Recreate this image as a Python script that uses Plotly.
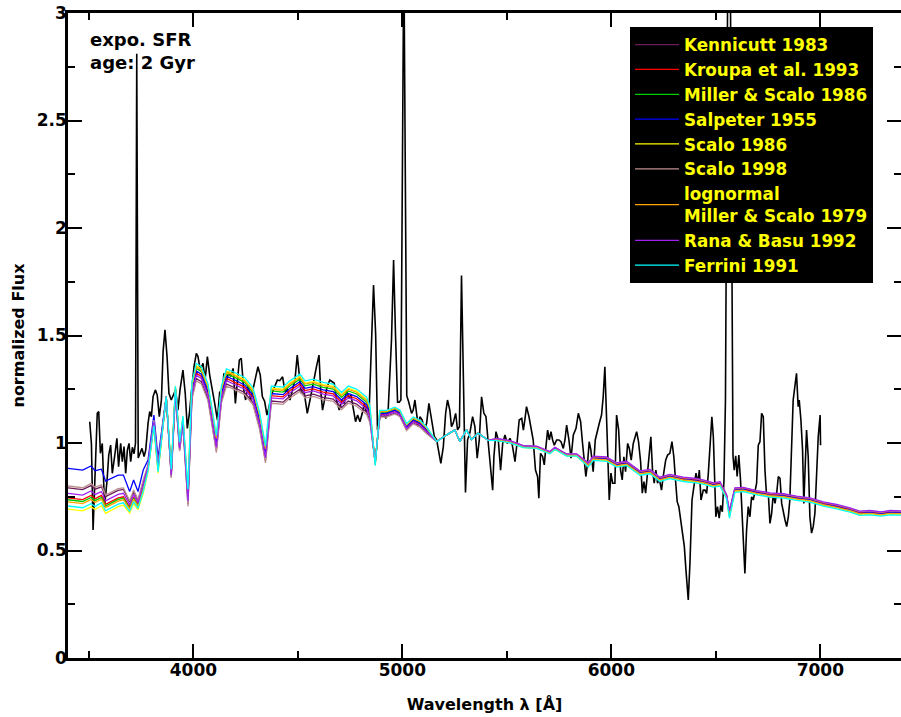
import plotly.graph_objects as go

# Observed spectrum: (wavelength [A], normalized flux)
observed = [
    (3504, 1.099), (3512, 0.998), (3520, 0.595), (3540, 1.138), (3547, 1.146), (3555, 0.952),
    (3564, 0.998), (3575, 0.704), (3587, 0.828), (3595, 0.944), (3604, 0.990), (3612, 0.859),
    (3623, 0.937), (3634, 1.022), (3642, 0.890), (3652, 0.998), (3660, 0.913), (3668, 0.983),
    (3676, 0.859), (3684, 0.967), (3692, 0.998), (3700, 0.913), (3708, 0.980), (3716, 0.950),
    (3723, 1.000), (3729, 2.810), (3736, 0.930), (3743, 0.952), (3754, 0.975), (3764, 0.937),
    (3772, 0.967), (3783, 1.091), (3791, 1.146), (3799, 1.122), (3807, 1.216), (3818, 1.247),
    (3827, 1.223), (3837, 1.122), (3847, 1.200), (3855, 1.425), (3864, 1.526), (3874, 1.402),
    (3883, 1.231), (3894, 1.200), (3906, 1.231), (3915, 1.247), (3926, 1.153), (3936, 1.247),
    (3950, 1.339), (3961, 1.231), (3971, 1.068), (3981, 1.138), (3990, 1.231), (4003, 1.355),
    (4014, 1.417), (4022, 1.402), (4033, 1.339), (4046, 1.371), (4056, 1.293), (4067, 1.402),
    (4078, 1.316), (4089, 1.247), (4102, 1.184), (4115, 1.107), (4126, 1.239), (4137, 1.223),
    (4146, 1.324), (4158, 1.285), (4169, 1.332), (4178, 1.309), (4190, 1.347), (4201, 1.184),
    (4210, 1.301), (4220, 1.386), (4229, 1.394), (4241, 1.247), (4250, 1.200), (4261, 1.270),
    (4274, 1.200), (4285, 1.247), (4298, 1.316), (4309, 1.355), (4320, 1.316), (4330, 1.216),
    (4341, 1.193), (4352, 1.130), (4362, 1.168), (4373, 1.223), (4389, 1.262), (4402, 1.293),
    (4413, 1.290), (4427, 1.308), (4438, 1.239), (4449, 1.254), (4462, 1.200), (4475, 1.247),
    (4486, 1.293), (4497, 1.409), (4507, 1.308), (4516, 1.231), (4526, 1.262), (4534, 1.216),
    (4545, 1.138), (4558, 1.200), (4569, 1.262), (4580, 1.324), (4589, 1.355), (4601, 1.409),
    (4609, 1.247), (4618, 1.153), (4629, 1.200), (4640, 1.262), (4653, 1.293), (4664, 1.285),
    (4674, 1.278), (4685, 1.200), (4698, 1.153), (4711, 1.200), (4722, 1.184), (4733, 1.247),
    (4744, 1.208), (4754, 1.223), (4765, 1.169), (4776, 1.099), (4786, 1.130), (4797, 1.099),
    (4808, 1.138), (4818, 1.184), (4826, 1.145), (4833, 1.169), (4841, 1.153), (4853, 1.510),
    (4862, 1.735), (4872, 1.510), (4881, 1.061), (4893, 1.122), (4908, 1.138), (4921, 1.115),
    (4932, 1.153), (4948, 1.479), (4958, 1.851), (4967, 1.510), (4977, 1.190), (4985, 1.190),
    (4993, 1.200), (5007, 3.300), (5021, 1.220), (5030, 1.192), (5044, 1.138), (5052, 1.153),
    (5060, 1.200), (5068, 1.138), (5076, 1.076), (5084, 1.122), (5095, 1.107), (5105, 1.061),
    (5116, 1.092), (5127, 1.184), (5135, 1.138), (5145, 1.076), (5153, 1.030), (5164, 1.015),
    (5175, 0.944), (5184, 0.905), (5196, 0.983), (5207, 1.138), (5216, 1.200), (5227, 1.153),
    (5235, 1.076), (5243, 1.092), (5255, 1.138), (5264, 1.061), (5273, 1.076), (5283, 1.779),
    (5302, 0.770), (5312, 1.015), (5323, 1.046), (5336, 1.123), (5347, 1.076), (5358, 0.929),
    (5368, 1.015), (5379, 1.215), (5390, 1.138), (5400, 1.123), (5411, 1.000), (5422, 0.890),
    (5432, 0.780), (5438, 0.936), (5448, 1.053), (5459, 1.014), (5470, 0.874), (5480, 0.998),
    (5491, 1.037), (5502, 0.998), (5515, 1.022), (5526, 0.991), (5539, 0.913), (5550, 1.014),
    (5559, 1.107), (5571, 1.115), (5579, 1.060), (5586, 1.107), (5594, 1.169), (5606, 1.122),
    (5615, 1.076), (5626, 1.014), (5637, 0.874), (5647, 0.844), (5653, 0.743), (5661, 0.952),
    (5671, 0.937), (5679, 0.898), (5687, 0.983), (5695, 1.060), (5703, 1.014), (5711, 1.053),
    (5719, 1.014), (5727, 0.990), (5738, 1.014), (5749, 1.014), (5759, 1.006), (5770, 0.975),
    (5778, 1.014), (5786, 1.083), (5797, 1.014), (5807, 0.929), (5818, 1.037), (5831, 1.068),
    (5842, 1.138), (5853, 1.099), (5862, 1.000), (5870, 0.929), (5878, 0.844), (5886, 0.906),
    (5894, 1.006), (5902, 0.967), (5913, 0.867), (5923, 1.014), (5933, 1.060), (5942, 1.091),
    (5953, 1.130), (5961, 1.215), (5969, 1.355), (5977, 1.122), (5984, 0.967), (5990, 0.735),
    (5998, 0.860), (6006, 0.813), (6017, 0.813), (6025, 1.130), (6035, 1.060), (6044, 0.874),
    (6052, 0.828), (6060, 0.936), (6068, 0.867), (6078, 0.998), (6086, 0.975), (6095, 0.920),
    (6105, 0.998), (6121, 1.053), (6130, 1.006), (6140, 0.913), (6148, 0.767), (6156, 0.820),
    (6164, 0.767), (6172, 0.844), (6181, 0.936), (6189, 1.029), (6197, 0.874), (6205, 0.813),
    (6213, 0.874), (6221, 0.813), (6229, 0.836), (6240, 0.781), (6248, 0.844), (6260, 0.920),
    (6269, 0.944), (6280, 0.952), (6290, 1.006), (6299, 0.936), (6307, 0.828), (6315, 0.727),
    (6323, 0.704), (6331, 0.650), (6339, 0.595), (6349, 0.520), (6357, 0.409), (6368, 0.270),
    (6376, 0.440), (6386, 0.735), (6395, 0.797), (6405, 0.860), (6414, 0.813), (6421, 0.874),
    (6429, 0.735), (6440, 0.781), (6448, 0.781), (6456, 0.766), (6464, 0.859), (6472, 0.967),
    (6481, 1.122), (6488, 1.029), (6494, 0.844), (6500, 0.657), (6508, 0.704), (6516, 0.650),
    (6523, 0.710), (6531, 0.680), (6539, 0.828), (6546, 1.200), (6563, 4.300), (6578, 1.300),
    (6582, 0.940), (6588, 0.874), (6595, 0.940), (6602, 0.844), (6610, 0.944), (6618, 0.828),
    (6626, 0.642), (6634, 0.533), (6639, 0.393), (6647, 0.595), (6655, 0.704), (6663, 0.657),
    (6671, 0.750), (6679, 0.735), (6687, 0.781), (6695, 0.812), (6703, 0.990), (6711, 1.006),
    (6719, 1.138), (6727, 1.122), (6735, 0.874), (6743, 0.750), (6751, 0.766), (6759, 0.626),
    (6767, 0.673), (6775, 0.766), (6783, 0.719), (6791, 0.766), (6799, 0.844), (6807, 0.836),
    (6815, 0.719), (6823, 0.673), (6831, 0.642), (6839, 0.611), (6847, 0.657), (6854, 0.735),
    (6862, 0.952), (6870, 1.200), (6878, 1.262), (6886, 1.324), (6894, 1.169), (6899, 1.200),
    (6907, 1.107), (6915, 0.967), (6921, 0.719), (6929, 0.967), (6934, 1.060), (6942, 0.936),
    (6950, 0.657), (6958, 0.581), (6966, 0.611), (6974, 0.673), (6982, 0.874), (6990, 1.029),
    (6999, 1.130), (7001, 0.990),
]
obs_wave = [w for w, _ in observed]
obs_flux = [f for _, f in observed]

# Common wavelength grid of the synthetic model spectra [A]
model_wave = [
    3400, 3470, 3510, 3530, 3560, 3580, 3640, 3665, 3695, 3714, 3735, 3760, 3783, 3811, 3831, 3870,
    3894, 3914, 3934, 3950, 3974, 3993, 4014, 4038, 4070, 4110, 4134, 4158, 4198, 4245, 4285, 4317,
    4345, 4373, 4429, 4462, 4510, 4534, 4574, 4621, 4669, 4709, 4741, 4781, 4829, 4845,
    4870, 4892, 4924, 4964, 4988, 5020, 5052, 5084, 5116,
    5164, 5212, 5251, 5275, 5307, 5331, 5363, 5411,
    5451, 5515, 5579, 5642, 5706, 5730, 5786, 5834, 5890, 5913, 5977, 6025, 6073, 6137, 6185, 6232,
    6280, 6344, 6408, 6448, 6488, 6520, 6551, 6565, 6591, 6631, 6695, 6759, 6823, 6886, 6950, 7014,
    7078, 7142, 7189, 7237, 7293, 7333, 7400,
]

kennicutt_1983 = [
    0.791, 0.783, 0.802, 0.785, 0.796, 0.751, 0.780, 0.784, 0.726, 0.775, 0.733, 0.822, 0.895, 1.104, 0.896, 1.216,
    0.842, 1.229, 0.967, 1.089, 0.715, 1.212, 1.300, 1.285, 1.205, 0.965, 1.195, 1.275, 1.258, 1.235, 1.188, 1.072,
    0.917, 1.195, 1.190, 1.219, 1.250, 1.219, 1.227, 1.212, 1.204, 1.165, 1.195, 1.181, 1.143, 1.103,
    0.911, 1.124, 1.124, 1.139, 1.126, 1.062, 1.093, 1.078, 1.047,
    1.007, 1.038, 1.061, 1.007, 1.061, 1.015, 1.046, 1.012,
    1.019, 1.009, 0.986, 0.983, 0.958, 0.978, 0.947, 0.947, 0.904, 0.935, 0.931, 0.904, 0.911, 0.866, 0.873, 0.837,
    0.850, 0.837, 0.831, 0.822, 0.811, 0.816, 0.757, 0.680, 0.787, 0.790, 0.775, 0.764, 0.760, 0.749, 0.741, 0.722,
    0.710, 0.694, 0.679, 0.682, 0.676, 0.682, 0.680,
]
kroupa_1993 = [
    0.745, 0.737, 0.756, 0.741, 0.756, 0.715, 0.745, 0.750, 0.702, 0.749, 0.713, 0.796, 0.882, 1.091, 0.880, 1.216,
    0.855, 1.242, 0.980, 1.102, 0.740, 1.237, 1.325, 1.310, 1.230, 0.990, 1.220, 1.300, 1.283, 1.260, 1.213, 1.097,
    0.942, 1.220, 1.215, 1.244, 1.275, 1.244, 1.252, 1.237, 1.229, 1.190, 1.220, 1.206, 1.168, 1.128,
    0.907, 1.134, 1.134, 1.149, 1.136, 1.072, 1.103, 1.088, 1.057,
    1.007, 1.038, 1.061, 1.007, 1.061, 1.015, 1.046, 1.012,
    1.018, 1.008, 0.985, 0.982, 0.957, 0.977, 0.946, 0.946, 0.902, 0.933, 0.929, 0.902, 0.909, 0.864, 0.871, 0.835,
    0.848, 0.835, 0.829, 0.820, 0.809, 0.814, 0.755, 0.677, 0.785, 0.788, 0.773, 0.762, 0.758, 0.747, 0.739, 0.720,
    0.708, 0.692, 0.677, 0.680, 0.674, 0.680, 0.678,
]
miller_scalo_1986 = [
    0.736, 0.728, 0.747, 0.732, 0.747, 0.707, 0.738, 0.743, 0.697, 0.743, 0.709, 0.791, 0.879, 1.088, 0.876, 1.216,
    0.866, 1.253, 0.991, 1.113, 0.762, 1.259, 1.347, 1.332, 1.252, 1.012, 1.242, 1.322, 1.305, 1.282, 1.235, 1.119,
    0.964, 1.242, 1.237, 1.266, 1.297, 1.266, 1.274, 1.259, 1.251, 1.212, 1.242, 1.228, 1.190, 1.150,
    0.902, 1.143, 1.143, 1.158, 1.145, 1.081, 1.112, 1.097, 1.066,
    1.007, 1.038, 1.061, 1.007, 1.061, 1.015, 1.046, 1.012,
    1.013, 1.003, 0.980, 0.977, 0.952, 0.972, 0.941, 0.941, 0.893, 0.924, 0.920, 0.893, 0.900, 0.855, 0.862, 0.826,
    0.839, 0.826, 0.820, 0.811, 0.800, 0.805, 0.746, 0.662, 0.776, 0.779, 0.764, 0.753, 0.749, 0.738, 0.730, 0.711,
    0.699, 0.683, 0.668, 0.671, 0.665, 0.671, 0.669,
]
salpeter_1955 = [
    0.882, 0.874, 0.893, 0.871, 0.878, 0.823, 0.851, 0.851, 0.774, 0.828, 0.774, 0.874, 0.921, 1.130, 0.930, 1.216,
    0.860, 1.247, 0.985, 1.107, 0.750, 1.247, 1.335, 1.320, 1.240, 1.000, 1.230, 1.310, 1.293, 1.270, 1.223, 1.107,
    0.952, 1.230, 1.225, 1.254, 1.285, 1.254, 1.262, 1.247, 1.239, 1.200, 1.230, 1.216, 1.178, 1.138,
    0.905, 1.138, 1.138, 1.153, 1.140, 1.076, 1.107, 1.092, 1.061,
    1.007, 1.038, 1.061, 1.007, 1.061, 1.015, 1.046, 1.012,
    1.016, 1.006, 0.983, 0.980, 0.955, 0.975, 0.944, 0.944, 0.898, 0.929, 0.925, 0.898, 0.905, 0.860, 0.867, 0.831,
    0.844, 0.831, 0.825, 0.816, 0.805, 0.810, 0.751, 0.673, 0.781, 0.784, 0.769, 0.758, 0.754, 0.743, 0.735, 0.716,
    0.704, 0.688, 0.673, 0.676, 0.670, 0.676, 0.674,
]
scalo_1986 = [
    0.692, 0.684, 0.703, 0.691, 0.708, 0.673, 0.704, 0.711, 0.674, 0.718, 0.689, 0.766, 0.867, 1.076, 0.860, 1.216,
    0.873, 1.260, 0.998, 1.120, 0.775, 1.272, 1.360, 1.345, 1.265, 1.025, 1.255, 1.335, 1.318, 1.295, 1.248, 1.132,
    0.977, 1.255, 1.250, 1.279, 1.310, 1.279, 1.287, 1.272, 1.264, 1.225, 1.255, 1.241, 1.203, 1.163,
    0.898, 1.148, 1.148, 1.163, 1.150, 1.086, 1.117, 1.102, 1.071,
    1.007, 1.038, 1.061, 1.007, 1.061, 1.015, 1.046, 1.012,
    1.012, 1.002, 0.979, 0.976, 0.951, 0.971, 0.940, 0.940, 0.891, 0.922, 0.918, 0.891, 0.898, 0.853, 0.860, 0.824,
    0.837, 0.824, 0.818, 0.809, 0.798, 0.803, 0.744, 0.658, 0.774, 0.777, 0.762, 0.751, 0.747, 0.736, 0.728, 0.709,
    0.697, 0.681, 0.666, 0.669, 0.663, 0.669, 0.667,
]
scalo_1998 = [
    0.800, 0.792, 0.811, 0.794, 0.805, 0.758, 0.788, 0.791, 0.731, 0.781, 0.737, 0.828, 0.898, 1.107, 0.900, 1.216,
    0.837, 1.224, 0.962, 1.084, 0.705, 1.202, 1.290, 1.275, 1.195, 0.955, 1.185, 1.265, 1.248, 1.225, 1.178, 1.062,
    0.907, 1.185, 1.180, 1.209, 1.240, 1.209, 1.217, 1.202, 1.194, 1.155, 1.185, 1.171, 1.133, 1.093,
    0.913, 1.120, 1.120, 1.135, 1.122, 1.058, 1.089, 1.074, 1.043,
    1.007, 1.038, 1.061, 1.007, 1.061, 1.015, 1.046, 1.012,
    1.020, 1.010, 0.987, 0.984, 0.959, 0.979, 0.948, 0.948, 0.906, 0.937, 0.933, 0.906, 0.913, 0.868, 0.875, 0.839,
    0.852, 0.839, 0.833, 0.824, 0.813, 0.818, 0.759, 0.682, 0.789, 0.792, 0.777, 0.766, 0.762, 0.751, 0.743, 0.724,
    0.712, 0.696, 0.681, 0.684, 0.678, 0.684, 0.682,
]
lognormal_1979 = [
    0.726, 0.718, 0.737, 0.723, 0.739, 0.700, 0.730, 0.736, 0.692, 0.738, 0.704, 0.785, 0.877, 1.086, 0.873, 1.216,
    0.870, 1.257, 0.995, 1.117, 0.770, 1.267, 1.355, 1.340, 1.260, 1.020, 1.250, 1.330, 1.313, 1.290, 1.243, 1.127,
    0.972, 1.250, 1.245, 1.274, 1.305, 1.274, 1.282, 1.267, 1.259, 1.220, 1.250, 1.236, 1.198, 1.158,
    0.900, 1.146, 1.146, 1.161, 1.148, 1.084, 1.115, 1.100, 1.069,
    1.007, 1.038, 1.061, 1.007, 1.061, 1.015, 1.046, 1.012,
    1.014, 1.004, 0.981, 0.978, 0.953, 0.973, 0.942, 0.942, 0.895, 0.926, 0.922, 0.895, 0.902, 0.857, 0.864, 0.828,
    0.841, 0.828, 0.822, 0.813, 0.802, 0.807, 0.748, 0.665, 0.778, 0.781, 0.766, 0.755, 0.751, 0.740, 0.732, 0.713,
    0.701, 0.685, 0.670, 0.673, 0.667, 0.673, 0.671,
]
rana_basu_1992 = [
    0.766, 0.758, 0.777, 0.761, 0.774, 0.731, 0.761, 0.766, 0.713, 0.761, 0.722, 0.808, 0.888, 1.097, 0.887, 1.216,
    0.850, 1.237, 0.975, 1.097, 0.730, 1.227, 1.315, 1.300, 1.220, 0.980, 1.210, 1.290, 1.273, 1.250, 1.203, 1.087,
    0.932, 1.210, 1.205, 1.234, 1.265, 1.234, 1.242, 1.227, 1.219, 1.180, 1.210, 1.196, 1.158, 1.118,
    0.909, 1.130, 1.130, 1.145, 1.132, 1.068, 1.099, 1.084, 1.053,
    1.007, 1.038, 1.061, 1.007, 1.061, 1.015, 1.046, 1.012,
    1.021, 1.011, 0.988, 0.985, 0.960, 0.980, 0.949, 0.949, 0.908, 0.939, 0.935, 0.908, 0.915, 0.870, 0.877, 0.841,
    0.854, 0.841, 0.835, 0.826, 0.815, 0.820, 0.761, 0.684, 0.791, 0.794, 0.779, 0.768, 0.764, 0.753, 0.745, 0.726,
    0.714, 0.698, 0.683, 0.686, 0.680, 0.686, 0.684,
]
ferrini_1991 = [
    0.707, 0.699, 0.718, 0.705, 0.722, 0.685, 0.716, 0.722, 0.682, 0.727, 0.696, 0.775, 0.871, 1.080, 0.866, 1.216,
    0.878, 1.265, 1.003, 1.125, 0.785, 1.282, 1.370, 1.355, 1.275, 1.035, 1.265, 1.345, 1.328, 1.305, 1.258, 1.142,
    0.987, 1.265, 1.260, 1.289, 1.320, 1.289, 1.297, 1.282, 1.274, 1.235, 1.265, 1.251, 1.213, 1.173,
    0.895, 1.152, 1.152, 1.167, 1.154, 1.090, 1.121, 1.106, 1.075,
    1.007, 1.038, 1.061, 1.007, 1.061, 1.015, 1.046, 1.012,
    1.011, 1.001, 0.978, 0.975, 0.950, 0.970, 0.939, 0.939, 0.888, 0.919, 0.915, 0.888, 0.895, 0.850, 0.857, 0.821,
    0.834, 0.821, 0.815, 0.806, 0.795, 0.800, 0.741, 0.650, 0.771, 0.774, 0.759, 0.748, 0.744, 0.733, 0.725, 0.706,
    0.694, 0.678, 0.663, 0.666, 0.660, 0.666, 0.664,
]

imf_names = [
    "Kennicutt 1983", "Kroupa et al. 1993", "Miller & Scalo 1986", "Salpeter 1955",
    "Scalo 1986", "Scalo 1998", "lognormal<br>Miller & Scalo 1979", "Rana & Basu 1992", "Ferrini 1991",
]
imf_fluxes = [
    kennicutt_1983, kroupa_1993, miller_scalo_1986, salpeter_1955,
    scalo_1986, scalo_1998, lognormal_1979, rana_basu_1992, ferrini_1991,
]
imf_colors = [
    "#6a1b5a", "#ff0000", "#00cc00", "#0000ff",
    "#ffff00", "#bc8f8f", "#ffa500", "#a020f0", "#00ffff",
]

FONT = "DejaVu Sans"

fig = go.Figure()

fig.add_trace(go.Scatter(
    x=obs_wave, y=obs_flux, mode="lines",
    line=dict(color="black", width=1.6),
    showlegend=False, hoverinfo="skip",
))

for name, flux, color in zip(imf_names, imf_fluxes, imf_colors):
    assert len(flux) == len(model_wave), name
    fig.add_trace(go.Scatter(
        x=model_wave, y=flux, mode="lines", name=name,
        line=dict(color=color, width=1.3),
    ))

axis_common = dict(
    showline=True, linecolor="black", linewidth=2.5, mirror="ticks",
    ticks="inside", ticklen=14, tickwidth=2, tickcolor="black",
    showgrid=False, zeroline=False,
    tickfont=dict(family=FONT, size=17, color="black", weight="bold"),
)

fig.update_xaxes(
    range=[3400, 7386], dtick=1000, tick0=0,
    minor=dict(ticks="inside", ticklen=7, tickwidth=2, tickcolor="black", dtick=500, showgrid=False),
    title=dict(text="Wavelength λ [Å]", font=dict(family=FONT, size=16, color="black", weight="bold"),
               standoff=20),
    ticklabelstandoff=-5,
    **axis_common,
)
fig.update_yaxes(
    range=[0, 3], dtick=0.5, tick0=0,
    minor=dict(ticks="inside", ticklen=7, tickwidth=2, tickcolor="black", dtick=0.25, showgrid=False),
    title=dict(text="normalized Flux", font=dict(family=FONT, size=16, color="black", weight="bold"),
               standoff=9),
    ticklabelstandoff=-5,
    **axis_common,
)

fig.add_annotation(
    xref="paper", yref="paper", x=0.0240, y=0.978, xanchor="left", yanchor="top",
    text="expo. SFR<br>age: 2 Gyr", showarrow=False, align="left",
    font=dict(family=FONT, size=18, color="black", weight="bold"),
)

fig.update_layout(
    width=901, height=717,
    margin=dict(l=68, r=0, t=13, b=59, autoexpand=False),
    plot_bgcolor="white", paper_bgcolor="white",
    legend=dict(
        x=0.6747, y=0.978, xanchor="left", yanchor="top",
        bgcolor="black", borderwidth=0, itemwidth=44,
        font=dict(family=FONT, size=16.8, color="yellow", weight="bold"),
        tracegroupgap=0,
    ),
)

fig.write_html("out.html")
